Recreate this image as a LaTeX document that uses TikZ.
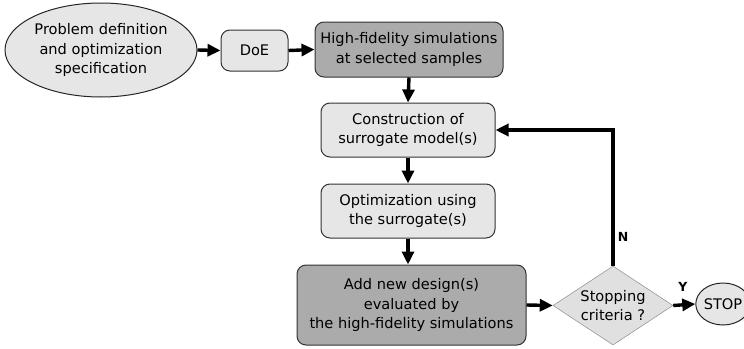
\documentclass[tikz,border=0pt]{standalone}
\usepackage{fontspec}
\setmainfont{DejaVu Sans}
\usetikzlibrary{shapes.geometric,arrows.meta}
\definecolor{lightbox}{HTML}{E6E6E6}
\definecolor{darkbox}{HTML}{ABABAB}
\definecolor{diafill}{HTML}{E0E0E0}
\begin{document}
\begin{tikzpicture}[x=1pt,y=1pt,
  every node/.style={font=\fontsize{14.6}{19.5}\selectfont, align=center, inner sep=0pt},
  boxlight/.style={draw=black!80, line width=1pt, rounded corners=9pt, fill=lightbox},
  boxdark/.style={draw=black!80, line width=1pt, rounded corners=9pt, fill=darkbox},
  ellnode/.style={ellipse, draw=black!85, line width=1pt, fill=lightbox},
  flowarrow/.style={line width=3.4pt, -{Triangle[length=13pt,width=12pt]}},
  lbl/.style={font=\fontsize{12.5}{15}\selectfont\bfseries}
]
\useasboundingbox (0,0) rectangle (744,-348);
\node[ellnode, minimum width=192pt, minimum height=94pt] (prob) at (101,-50) {Problem definition\\and optimization\\specification};
\node[boxlight, minimum width=67pt, minimum height=41pt] (doe) at (254.5,-50.5) {DoE};
\node[boxdark, minimum width=188pt, minimum height=55pt] (hf) at (409,-49.5) {High-fidelity simulations\\at selected samples};
\node[boxlight, minimum width=174pt, minimum height=54pt] (cons) at (408,-130) {Construction of\\surrogate model(s)};
\node[boxlight, minimum width=174pt, minimum height=54pt] (opt) at (408,-211) {Optimization using\\the surrogate(s)};
\node[boxdark, minimum width=229pt, minimum height=80pt] (add) at (411.5,-305) {Add new design(s)\\evaluated by\\the high-fidelity simulations};
\node[diamond, draw=black!45, line width=0.5pt, fill=diafill, minimum width=120pt, minimum height=79pt, aspect=1.5] (dia) at (613,-305.5) {};
\node (diatext) at (dia.center) {Stopping\\criteria ?};
\node[ellnode, minimum width=46pt, minimum height=42pt] (stop) at (723,-304) {STOP};
\coordinate (corner) at (613,-130);
\draw[flowarrow] (prob.east) -- (doe.west);
\draw[flowarrow] (doe.east) -- (hf.west);
\draw[flowarrow] (hf.south) -- (cons.north);
\draw[flowarrow] (cons.south) -- (opt.north);
\draw[flowarrow] (opt.south) -- (add.north -| opt.south);
\draw[flowarrow] (add.east) -- (dia.west);
\draw[flowarrow] (dia.east) -- (stop.west);
\draw[flowarrow, line cap=butt] (dia.north) -- (corner) -- (cons.east);
\node[lbl] (nlabel) at (623,-237) {N};
\node[lbl] (ylabel) at (683,-287) {Y};
\end{tikzpicture}
\end{document}
